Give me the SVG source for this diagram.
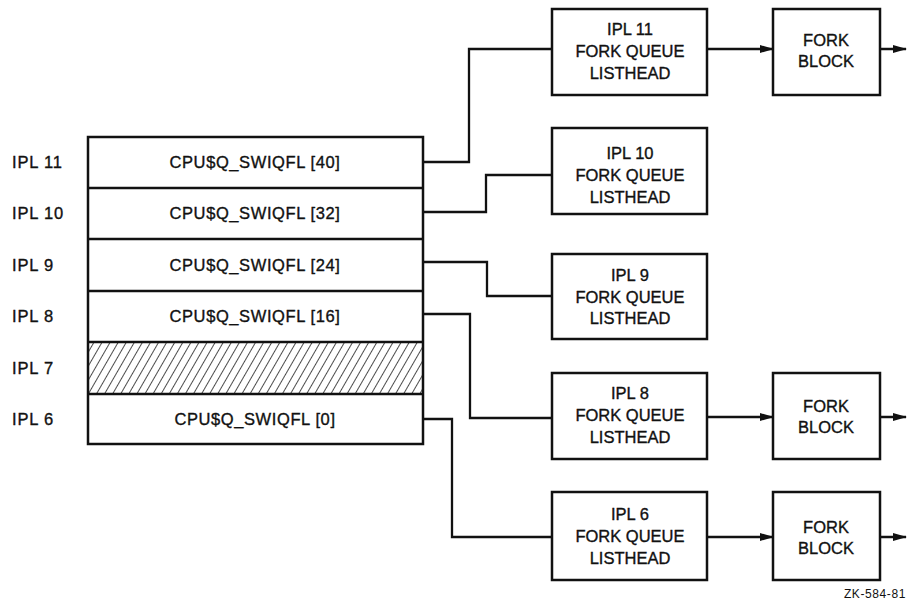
<svg xmlns="http://www.w3.org/2000/svg" width="909" height="606" viewBox="0 0 909 606">
<defs>
<style>
.t{font-family:"Liberation Sans",Arial,sans-serif;font-size:16.5px;fill:#111;stroke:#111;stroke-width:0.35;}
.c{text-anchor:middle;}
.cpu{letter-spacing:0.6px;}
.box{fill:#fff;stroke:#111;stroke-width:2.5;}
.ln{fill:none;stroke:#111;stroke-width:2.3;}
.arr{fill:none;stroke:#111;stroke-width:2.5;marker-end:url(#ah);}
</style>
<marker id="ah" markerWidth="14" markerHeight="10" refX="13" refY="5" orient="auto" markerUnits="userSpaceOnUse">
<path d="M0,1 L14,5 L0,9 Z" fill="#111"/>
</marker>
<pattern id="hatch" patternUnits="userSpaceOnUse" width="7" height="7" patternTransform="rotate(30)">
<line x1="0" y1="0" x2="0" y2="7" stroke="#111" stroke-width="1.5"/>
</pattern>
</defs>
<rect width="909" height="606" fill="#fff"/>

<g id="table">
<rect x="88" y="137" width="335" height="307" fill="#fff"/>
<rect x="88" y="342" width="335" height="52" fill="url(#hatch)"/>
<line class="ln" x1="88" y1="188" x2="423" y2="188"/>
<line class="ln" x1="88" y1="239" x2="423" y2="239"/>
<line class="ln" x1="88" y1="291" x2="423" y2="291"/>
<line class="ln" x1="88" y1="342" x2="423" y2="342"/>
<line class="ln" x1="88" y1="394" x2="423" y2="394"/>
<rect x="88" y="137" width="335" height="307" fill="none" stroke="#111" stroke-width="2.5"/>
<text class="t c cpu" x="255" y="168">CPU$Q_SWIQFL [40]</text>
<text class="t c cpu" x="255" y="219">CPU$Q_SWIQFL [32]</text>
<text class="t c cpu" x="255" y="271">CPU$Q_SWIQFL [24]</text>
<text class="t c cpu" x="255" y="322">CPU$Q_SWIQFL [16]</text>
<text class="t c cpu" x="255" y="425">CPU$Q_SWIQFL [0]</text>
<text class="t" x="12" y="168" letter-spacing="0.8">IPL 11</text>
<text class="t" x="12" y="219" letter-spacing="0.8">IPL 10</text>
<text class="t" x="12" y="271" letter-spacing="0.8">IPL 9</text>
<text class="t" x="12" y="322" letter-spacing="0.8">IPL 8</text>
<text class="t" x="12" y="374" letter-spacing="0.8">IPL 7</text>
<text class="t" x="12" y="425" letter-spacing="0.8">IPL 6</text>
</g>

<g id="lh11">
<rect class="box" x="552" y="9" width="155" height="86"/>
<text class="t c" x="630" y="35">IPL 11</text>
<text class="t c" x="630" y="57">FORK QUEUE</text>
<text class="t c" x="630" y="79">LISTHEAD</text>
</g>
<g id="lh10">
<rect class="box" x="552" y="128" width="155" height="86"/>
<text class="t c" x="630" y="159">IPL 10</text>
<text class="t c" x="630" y="181">FORK QUEUE</text>
<text class="t c" x="630" y="203">LISTHEAD</text>
</g>
<g id="lh9">
<rect class="box" x="552" y="254" width="155" height="85"/>
<text class="t c" x="630" y="281">IPL 9</text>
<text class="t c" x="630" y="303">FORK QUEUE</text>
<text class="t c" x="630" y="324">LISTHEAD</text>
</g>
<g id="lh8">
<rect class="box" x="552" y="373" width="155" height="86"/>
<text class="t c" x="630" y="399">IPL 8</text>
<text class="t c" x="630" y="421">FORK QUEUE</text>
<text class="t c" x="630" y="443">LISTHEAD</text>
</g>
<g id="lh6">
<rect class="box" x="552" y="492" width="155" height="88"/>
<text class="t c" x="630" y="520">IPL 6</text>
<text class="t c" x="630" y="542">FORK QUEUE</text>
<text class="t c" x="630" y="564">LISTHEAD</text>
</g>

<g id="fb11">
<rect class="box" x="773" y="9" width="107" height="86"/>
<text class="t c" x="826" y="46">FORK</text>
<text class="t c" x="826" y="67">BLOCK</text>
</g>
<g id="fb8">
<rect class="box" x="773" y="373" width="107" height="86"/>
<text class="t c" x="826" y="412">FORK</text>
<text class="t c" x="826" y="433">BLOCK</text>
</g>
<g id="fb6">
<rect class="box" x="773" y="492" width="107" height="88"/>
<text class="t c" x="826" y="533">FORK</text>
<text class="t c" x="826" y="554">BLOCK</text>
</g>

<g id="connectors">
<polyline class="ln" points="423,162 469,162 469,49 552,49"/>
<polyline class="ln" points="423,212 486,212 486,175 552,175"/>
<polyline class="ln" points="423,262 487,262 487,296 552,296"/>
<polyline class="ln" points="423,314 470,314 470,418 552,418"/>
<polyline class="ln" points="423,419 452,419 452,537 552,537"/>
<line class="arr" x1="707" y1="49" x2="773" y2="49"/>
<line class="arr" x1="880" y1="49" x2="906" y2="49"/>
<line class="arr" x1="707" y1="417" x2="773" y2="417"/>
<line class="arr" x1="880" y1="417" x2="906" y2="417"/>
<line class="arr" x1="707" y1="537" x2="773" y2="537"/>
<line class="arr" x1="880" y1="537" x2="906" y2="537"/>
</g>

<text x="906" y="598" text-anchor="end" letter-spacing="0.6" style="font-family:'Liberation Sans',Arial,sans-serif;font-size:12px;fill:#111;">ZK-584-81</text>
</svg>
